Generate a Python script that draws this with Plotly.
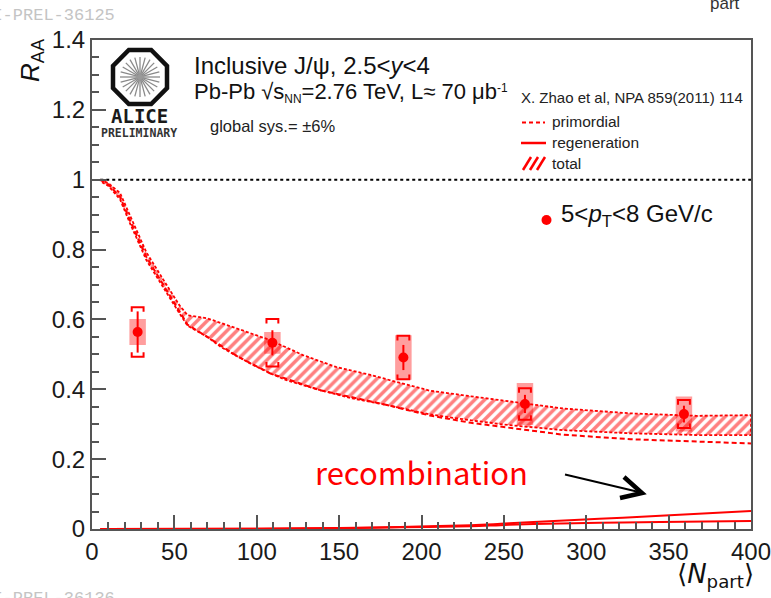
import math
import plotly.graph_objects as go

# ---------------- data ----------------
# measured points (5<pT<8 GeV/c)
npart = [27.7, 109.5, 189.0, 262.8, 359.3]
raa = [0.564, 0.533, 0.491, 0.358, 0.329]
stat_err = [0.059, 0.036, 0.036, 0.026, 0.024]
sys_uncorr = [0.071, 0.068, 0.062, 0.045, 0.040]   # brackets
sys_corr = [0.037, 0.031, 0.064, 0.060, 0.050]     # shaded boxes

# model: total band (upper / lower edges)
tot_hi_x = [5, 10, 17, 23, 33, 43, 53, 58, 70, 88, 108, 128, 148, 169, 189, 205, 230, 250, 286, 327, 367, 400]
tot_hi_y = [1.0, 0.99, 0.962, 0.897, 0.792, 0.716, 0.641, 0.612, 0.603, 0.574, 0.541, 0.498, 0.464, 0.441, 0.417, 0.396, 0.380, 0.367, 0.345, 0.331, 0.324, 0.326]
tot_lo_x = [5, 10, 17, 23, 33, 43, 53, 58, 70, 78, 88, 98, 108, 118, 138, 158, 179, 205, 230, 250, 286, 327, 367, 400]
tot_lo_y = [0.996, 0.982, 0.944, 0.876, 0.770, 0.694, 0.618, 0.582, 0.550, 0.522, 0.495, 0.469, 0.446, 0.426, 0.398, 0.374, 0.355, 0.328, 0.311, 0.299, 0.283, 0.274, 0.269, 0.269]

# model: primordial (dashed)
prim_x = [5, 10, 17, 23, 33, 43, 53, 58, 70, 88, 108, 138, 179, 205, 230, 256, 286, 327, 367, 400]
prim_y = [1.0, 0.986, 0.951, 0.884, 0.779, 0.703, 0.627, 0.585, 0.550, 0.495, 0.446, 0.398, 0.355, 0.325, 0.304, 0.288, 0.270, 0.257, 0.250, 0.245]

# model: regeneration (two solid lines)
regen_x = [5, 100, 150, 187, 230, 248, 268, 308, 345, 400]
regen_hi = [0.0, 0.001, 0.003, 0.006, 0.011, 0.015, 0.020, 0.029, 0.038, 0.0515]
regen_lo = [0.0, 0.001, 0.002, 0.005, 0.008, 0.011, 0.014, 0.018, 0.020, 0.023]

x_ticks = [0, 50, 100, 150, 200, 250, 300, 350, 400]
y_ticks = [0, 0.2, 0.4, 0.6, 0.8, 1.0, 1.2, 1.4]

# ---------------- geometry helpers ----------------
W, H = 771, 598
L, R, T, B = 92, 751, 40, 529
RED = "#ff0000"
FONT = "Liberation Sans"


def fx(px):
    return (px - L) / (R - L)


def fy(py):
    return (B - py) / (B - T)


fig = go.Figure()

# total band (hatched)
band_x = tot_hi_x + tot_lo_x[::-1]
band_y = tot_hi_y + tot_lo_y[::-1]
fig.add_trace(go.Scatter(
    x=band_x, y=band_y, mode="lines", fill="toself",
    fillpattern=dict(shape="/", fgcolor=RED, size=7, solidity=0.5),
    fillcolor="rgba(0,0,0,0)",
    line=dict(color=RED, width=1.8, dash="3px,2px"),
    hoverinfo="skip", showlegend=False))

# primordial
fig.add_trace(go.Scatter(x=prim_x, y=prim_y, mode="lines",
                         line=dict(color=RED, width=2, dash="5px,3px"),
                         showlegend=False))
# regeneration
fig.add_trace(go.Scatter(x=regen_x, y=regen_hi, mode="lines", line_shape="spline",
                         line=dict(color=RED, width=2), showlegend=False))
fig.add_trace(go.Scatter(x=regen_x, y=regen_lo, mode="lines", line_shape="spline",
                         line=dict(color=RED, width=2), showlegend=False))

# unity line
fig.add_trace(go.Scatter(x=[5, 400], y=[1, 1], mode="lines",
                         line=dict(color="black", width=2, dash="3px,3px"),
                         showlegend=False))

# correlated systematic boxes
bw = 5.0
bx, by = [], []
for x, y, s in zip(npart, raa, sys_corr):
    bx += [x - bw, x + bw, x + bw, x - bw, x - bw, None]
    by += [y - s, y - s, y + s, y + s, y - s, None]
fig.add_trace(go.Scatter(x=bx, y=by, mode="lines", fill="toself",
                         fillcolor="rgba(255,0,0,0.38)", line=dict(width=0),
                         showlegend=False, hoverinfo="skip"))

# uncorrelated systematic brackets
hw, leg = 3.6, 0.013
kx, ky = [], []
for x, y, s in zip(npart, raa, sys_uncorr):
    kx += [x - hw, x - hw, x + hw, x + hw, None]
    ky += [y + s - leg, y + s, y + s, y + s - leg, None]
    kx += [x - hw, x - hw, x + hw, x + hw, None]
    ky += [y - s + leg, y - s, y - s, y - s + leg, None]
fig.add_trace(go.Scatter(x=kx, y=ky, mode="lines",
                         line=dict(color=RED, width=2), showlegend=False))

# points with stat errors
fig.add_trace(go.Scatter(
    x=npart, y=raa, mode="markers",
    marker=dict(color=RED, size=10),
    error_y=dict(type="data", array=stat_err, color=RED, thickness=2, width=0),
    showlegend=False))

# ---------------- decorations ----------------
shapes = []
annotations = []


def ann(text, px, py, size, xanchor="left", yanchor="middle", color="#111",
        family=FONT, **kw):
    annotations.append(dict(text=text, x=fx(px), y=fy(py), xref="paper", yref="paper",
                            xanchor=xanchor, yanchor=yanchor, showarrow=False,
                            font=dict(size=size, color=color, family=family), **kw))


def pline(x0, y0, x1, y1, color, width, dash=None):
    d = dict(type="line", xref="paper", yref="paper", x0=fx(x0), y0=fy(y0),
             x1=fx(x1), y1=fy(y1), line=dict(color=color, width=width))
    if dash:
        d["line"]["dash"] = dash
    shapes.append(d)


# ALICE logo
cx, cy, ap = 140, 77, 27
rv = ap / math.cos(math.radians(22.5))
pts = []
for k in range(8):
    a = math.radians(22.5 + 45 * k)
    pts.append((cx + rv * math.cos(a), cy + rv * math.sin(a)))
path = "M " + " L ".join(f"{fx(p[0]):.5f},{fy(p[1]):.5f}" for p in pts) + " Z"
shapes.append(dict(type="path", xref="paper", yref="paper", path=path,
                   line=dict(color="#111", width=4.5)))
for k in range(24):
    a = math.radians(360 / 24 * k)
    pline(cx + 2 * math.cos(a), cy + 2 * math.sin(a),
          cx + 20 * math.cos(a), cy + 20 * math.sin(a), "#8a8a8a", 1.3)
shapes.append(dict(type="circle", xref="paper", yref="paper",
                   x0=fx(cx - 3), x1=fx(cx + 3), y0=fy(cy + 3), y1=fy(cy - 3),
                   fillcolor="#999", line=dict(width=0)))
ann("<b>ALICE</b>", 139, 116, 19, xanchor="center", family="DejaVu Sans Mono", color="#1a1a1a")
ann("<b>PRELIMINARY</b>", 139, 133, 11.5, xanchor="center", family="DejaVu Sans Mono", color="#333")

# header texts
ann("Inclusive J/ψ, 2.5&lt;<i>y</i>&lt;4", 192, 66, 24)
ann("Pb-Pb √s<span style='font-size:17px'><sub>NN</sub></span>=2.76 TeV, L≈ 70 μb<span style='font-size:17px'><sup>-1</sup></span>",
    192, 92, 22)
ann("global sys.= ±6%", 208, 126, 16.5, color="#222")
ann("X. Zhao et al, NPA 859(2011) 114", 519, 97, 15, color="#222")

# legend
ann("primordial", 550, 121, 15.5, color="#222")
ann("regeneration", 550, 142, 15.5, color="#222")
ann("total", 550, 163, 15.5, color="#222")
pline(522, 122.5, 545, 122.5, RED, 2, dash="4px,3px")
pline(521, 143, 546, 143, RED, 2.5)
for off in (523, 530, 537):
    pline(off, 170, off + 8, 157, RED, 2.5)

shapes.append(dict(type="circle", xref="paper", yref="paper",
                   x0=fx(541.5), x1=fx(551.5), y0=fy(225), y1=fy(215),
                   fillcolor=RED, line=dict(width=0)))
ann("5&lt;<i>p</i><sub>T</sub>&lt;8 GeV/c", 559, 215, 24)

# recombination annotation + arrow
ann("recombination", 421, 471, 31, xanchor="center", color=RED, family="Noto Sans CJK JP")
pline(565, 474.5, 641, 492.5, "black", 1.8)
shapes.append(dict(type="path", xref="paper", yref="paper",
                   path=f"M {fx(624):.5f},{fy(477):.5f} L {fx(642):.5f},{fy(493):.5f} L {fx(620):.5f},{fy(498):.5f}",
                   line=dict(color="black", width=4.5)))

# axis titles
ann("<i>R</i><sub>AA</sub>", 31, 60, 26, xanchor="center", textangle=-90, color="#111")
ann("⟨<i>N</i><sub>part</sub>⟩", 756, 575, 26, xanchor="right", color="#111", family="DejaVu Sans")

# watermark / cropped neighbour text
ann("ALI-PREL-36125", 117, 15, 17, xanchor="right", color="#c4c4c4", family="Liberation Mono")
ann("ALI-PREL-36136", 117, 598, 17, xanchor="right", color="#c4c4c4", family="Liberation Mono")
ann("part", 708, 15, 17, yanchor="bottom", color="#333")

AX = "#555"
fig.update_layout(
    width=W, height=H,
    margin=dict(l=L, r=W - R, t=T, b=H - B, autoexpand=False),
    paper_bgcolor="white", plot_bgcolor="white",
    shapes=shapes, annotations=annotations,
    xaxis=dict(range=[0, 400], tickvals=x_ticks, ticks="inside", ticklen=14, tickwidth=1.5,
               tickcolor=AX, showline=True, linecolor=AX, linewidth=2, mirror=True,
               showgrid=False, zeroline=False, ticklabeloverflow="allow", automargin=False,
               minor=dict(dtick=10, ticks="inside", ticklen=7, tickwidth=1.5, tickcolor=AX),
               tickfont=dict(family=FONT, size=24, color="#1a1a1a")),
    yaxis=dict(range=[0, 1.4], tickvals=y_ticks, ticks="inside", ticklen=14, tickwidth=1.5,
               tickcolor=AX, showline=True, linecolor=AX, linewidth=2, mirror=True,
               showgrid=False, zeroline=False, ticklabeloverflow="allow", automargin=False,
               minor=dict(dtick=0.05, ticks="inside", ticklen=7, tickwidth=1.5, tickcolor=AX),
               tickfont=dict(family=FONT, size=24, color="#1a1a1a")),
)

fig.write_html("out.html")
